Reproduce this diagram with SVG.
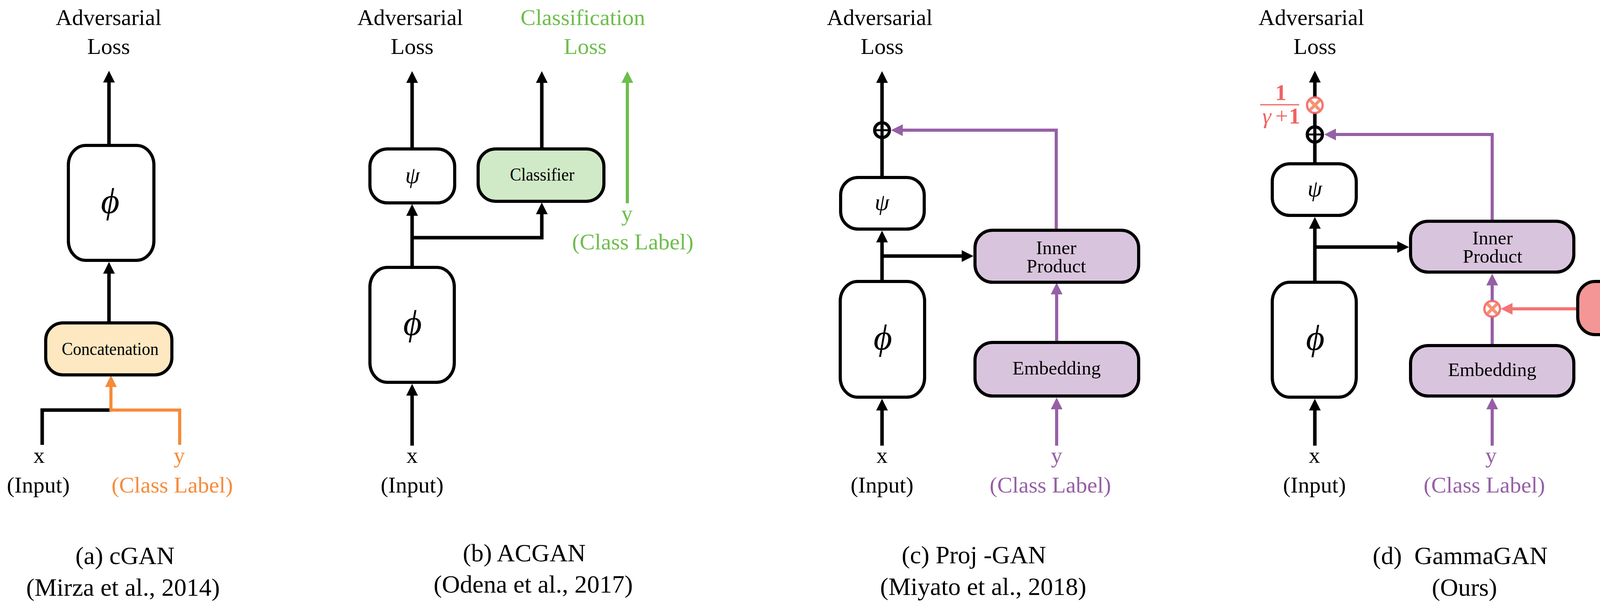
<svg xmlns="http://www.w3.org/2000/svg" width="4274" height="1563" viewBox="0 0 4274 1563">
<style>
text{font-family:"Liberation Serif","Times New Roman",serif;fill:#000;text-anchor:middle}
.lbl{font-size:58px}
.cap{font-size:64px;white-space:pre}
.sm{font-size:46px}
.md{font-size:49px}
.phi{font-size:92px;font-style:italic}
.psi{font-size:60px;font-style:italic}
.box{fill:#fff;stroke:#000;stroke-width:8}
.con{fill:#fde8c1}
.cls{fill:#d0e9c7}
.pur{fill:#d9c4dd}
.gam{fill:#f59696}
.k{fill:none;stroke:#000;stroke-width:9;stroke-linejoin:miter}
.p{fill:none;stroke:#9660a6;stroke-width:8}
.o{fill:none;stroke:#f68b3a;stroke-width:8}
.g{fill:none;stroke:#6dbe4c;stroke-width:8}
.s{fill:none;stroke:#f27474;stroke-width:8}
.tp{fill:#9660a6}
.to{fill:#f68b3a}
.tg{fill:#6dbe4c}
.ts{fill:#f06262}
</style>
<defs>
<marker id="ak" markerUnits="userSpaceOnUse" markerWidth="30" markerHeight="30" viewBox="0 0 30 30" refX="1" refY="15" orient="auto"><path d="M0,0L30,15L0,30Z" fill="#000"/></marker>
<marker id="ap" markerUnits="userSpaceOnUse" markerWidth="30" markerHeight="30" viewBox="0 0 30 30" refX="1" refY="15" orient="auto"><path d="M0,0L30,15L0,30Z" fill="#9660a6"/></marker>
<marker id="ao" markerUnits="userSpaceOnUse" markerWidth="30" markerHeight="30" viewBox="0 0 30 30" refX="1" refY="15" orient="auto"><path d="M0,0L30,15L0,30Z" fill="#f68b3a"/></marker>
<marker id="ag" markerUnits="userSpaceOnUse" markerWidth="30" markerHeight="30" viewBox="0 0 30 30" refX="1" refY="15" orient="auto"><path d="M0,0L30,15L0,30Z" fill="#6dbe4c"/></marker>
<marker id="as" markerUnits="userSpaceOnUse" markerWidth="30" markerHeight="30" viewBox="0 0 30 30" refX="1" refY="15" orient="auto"><path d="M0,0L30,15L0,30Z" fill="#f27474"/></marker>
</defs>

<g id="connectors">
<path class="k" d="M279,368V210" marker-end="url(#ak)"/>
<path class="k" d="M279,824V699" marker-end="url(#ak)"/>
<path class="k" d="M108,1138V1049H284"/>
<path class="o" d="M460,1138V1049H284V989" marker-end="url(#ao)"/>
<path class="k" d="M1055,382V211" marker-end="url(#ak)"/>
<path class="k" d="M1055,682V551" marker-end="url(#ak)"/>
<path class="k" d="M1055,608H1387V547" marker-end="url(#ak)"/>
<path class="k" d="M1387,382V211" marker-end="url(#ak)"/>
<path class="g" d="M1606,520V211" marker-end="url(#ag)"/>
<path class="k" d="M1055,1140V1011" marker-end="url(#ak)"/>
<path class="k" d="M2258,452V211" marker-end="url(#ak)"/>
<path class="k" d="M2258,718V619" marker-end="url(#ak)"/>
<path class="k" d="M2258,655H2463" marker-end="url(#ak)"/>
<path class="p" d="M2704,587V333H2310" marker-end="url(#ap)"/>
<path class="p" d="M2705,874V752" marker-end="url(#ap)"/>
<path class="p" d="M2705,1140V1046" marker-end="url(#ap)"/>
<path class="k" d="M2258,1140V1049" marker-end="url(#ak)"/>
<path class="k" d="M3366,417V210" marker-end="url(#ak)"/>
<path class="k" d="M3366,720V584" marker-end="url(#ak)"/>
<path class="k" d="M3366,632H3578" marker-end="url(#ak)"/>
<path class="p" d="M3820,564V344H3419" marker-end="url(#ap)"/>
<path class="p" d="M3820,882V729" marker-end="url(#ap)"/>
<path class="s" d="M4036,790H3871" marker-end="url(#as)"/>
<path class="p" d="M3820,1140V1046" marker-end="url(#ap)"/>
<path class="k" d="M3366,1140V1049" marker-end="url(#ak)"/>
</g>

<g id="a-loss"><text class="lbl" x="278" y="64">Adversarial</text><text class="lbl" x="278" y="138">Loss</text></g>
<g id="a-phi"><rect class="box" x="175" y="372" width="219" height="294" rx="45" ry="50"/><text class="phi" x="282" y="545">ϕ</text></g>
<g id="a-concat"><rect class="box con" x="117" y="826" width="323" height="133" rx="44" ry="44"/><text class="sm" x="282" y="908" textLength="248" lengthAdjust="spacingAndGlyphs">Concatenation</text></g>
<g id="a-x"><text class="lbl" x="100" y="1184">x</text><text class="lbl" x="98" y="1260">(Input)</text></g>
<g id="a-y"><text class="lbl to" x="459" y="1184">y</text><text class="lbl to" x="441" y="1260">(Class Label)</text></g>
<g id="a-caption"><text class="cap" x="320" y="1443">(a) cGAN</text><text class="cap" x="315" y="1524">(Mirza et al., 2014)</text></g>

<g id="b-loss"><text class="lbl" x="1050" y="64">Adversarial</text><text class="lbl" x="1055" y="138">Loss</text></g>
<g id="b-closs"><text class="lbl tg" x="1492" y="64">Classification</text><text class="lbl tg" x="1498" y="138">Loss</text></g>
<g id="b-psi"><rect class="box" x="947" y="381" width="217" height="138" rx="45" ry="45"/><text class="psi" x="1056" y="468">ψ</text></g>
<g id="b-classifier"><rect class="box cls" x="1224" y="381" width="322" height="134" rx="45" ry="45"/><text class="sm" x="1388" y="462" textLength="165" lengthAdjust="spacingAndGlyphs">Classifier</text></g>
<g id="b-phi"><rect class="box" x="947" y="684" width="216" height="294" rx="45" ry="50"/><text class="phi" x="1056" y="857">ϕ</text></g>
<g id="b-x"><text class="lbl" x="1055" y="1184">x</text><text class="lbl" x="1055" y="1260">(Input)</text></g>
<g id="b-y"><text class="lbl tg" x="1605" y="565">y</text><text class="lbl tg" x="1620" y="638">(Class Label)</text></g>
<g id="b-caption"><text class="cap" x="1342" y="1436">(b) ACGAN</text><text class="cap" x="1365" y="1516">(Odena et al., 2017)</text></g>

<g id="c-loss"><text class="lbl" x="2252" y="64">Adversarial</text><text class="lbl" x="2258" y="138">Loss</text></g>
<g id="c-oplus"><circle cx="2258" cy="333" r="19" fill="#fff" stroke="#000" stroke-width="8"/><line x1="2239" y1="333" x2="2277" y2="333" stroke="#000" stroke-width="5"/><line x1="2258" y1="314" x2="2258" y2="352" stroke="#000" stroke-width="8"/></g>
<g id="c-psi"><rect class="box" x="2152" y="454" width="214" height="132" rx="45" ry="45"/><text class="psi" x="2258" y="537">ψ</text></g>
<g id="c-phi"><rect class="box" x="2151" y="720" width="216" height="296" rx="45" ry="50"/><text class="phi" x="2260" y="894">ϕ</text></g>
<g id="c-inner"><rect class="box pur" x="2496" y="589" width="419" height="133" rx="45" ry="45"/><text class="md" x="2704" y="650">Inner<tspan x="2704" y="697">Product</tspan></text></g>
<g id="c-embed"><rect class="box pur" x="2496" y="876" width="419" height="137" rx="45" ry="45"/><text class="md" x="2705" y="958">Embedding</text></g>
<g id="c-x"><text class="lbl" x="2258" y="1184">x</text><text class="lbl" x="2258" y="1260">(Input)</text></g>
<g id="c-y"><text class="lbl tp" x="2705" y="1184">y</text><text class="lbl tp" x="2689" y="1260">(Class Label)</text></g>
<g id="c-caption"><text class="cap" x="2493" y="1441">(c) Proj -GAN</text><text class="cap" x="2517" y="1522">(Miyato et al., 2018)</text></g>

<g id="d-loss"><text class="lbl" x="3357" y="64">Adversarial</text><text class="lbl" x="3366" y="138">Loss</text></g>
<g id="d-scale"><text class="lbl ts" x="3279" y="256" font-weight="bold">1</text><line x1="3226" y1="268" x2="3326" y2="268" stroke="#f06262" stroke-width="3"/><text class="lbl ts" y="316"><tspan x="3243" font-style="italic">γ</tspan><tspan x="3281">+</tspan><tspan x="3314" font-weight="bold">1</tspan></text></g>
<g id="d-otimes1"><circle cx="3366" cy="269" r="20" fill="#fff" stroke="#f0605e" stroke-opacity="0.85" stroke-width="6"/><path d="M3353,256L3379,282M3379,256L3353,282" stroke="#f57f5a" stroke-opacity="0.85" stroke-width="8"/></g>
<g id="d-oplus"><circle cx="3366" cy="344" r="19.5" fill="#fff" stroke="#000" stroke-width="8"/><line x1="3347" y1="344" x2="3385" y2="344" stroke="#000" stroke-width="5"/><line x1="3366" y1="325" x2="3366" y2="363" stroke="#000" stroke-width="8"/></g>
<g id="d-psi"><rect class="box" x="3257" y="419" width="215" height="132" rx="45" ry="45"/><text class="psi" x="3366" y="502">ψ</text></g>
<g id="d-phi"><rect class="box" x="3257" y="722" width="215" height="294" rx="45" ry="50"/><text class="phi" x="3367" y="895">ϕ</text></g>
<g id="d-inner"><rect class="box pur" x="3611" y="566" width="418" height="130" rx="45" ry="45"/><text class="md" x="3821" y="625">Inner<tspan x="3821" y="672">Product</tspan></text></g>
<g id="d-otimes2"><circle cx="3820" cy="790" r="20" fill="#fff" stroke="#f0605e" stroke-opacity="0.85" stroke-width="6"/><path d="M3807,777L3833,803M3833,777L3807,803" stroke="#f57f5a" stroke-opacity="0.85" stroke-width="8"/></g>
<g id="d-gamma"><rect class="box gam" x="4039" y="720" width="216" height="136" rx="45" ry="45"/><text x="4146" y="802" font-size="70" font-weight="bold" font-style="italic">γ</text></g>
<g id="d-embed"><rect class="box pur" x="3611" y="884" width="418" height="129" rx="45" ry="45"/><text class="md" x="3820" y="962">Embedding</text></g>
<g id="d-x"><text class="lbl" x="3365" y="1184">x</text><text class="lbl" x="3365" y="1260">(Input)</text></g>
<g id="d-y"><text class="lbl tp" x="3817" y="1184">y</text><text class="lbl tp" x="3800" y="1260">(Class Label)</text></g>
<g id="d-caption"><text class="cap" x="3738" y="1443">(d)  GammaGAN</text><text class="cap" x="3749" y="1524">(Ours)</text></g>
</svg>
